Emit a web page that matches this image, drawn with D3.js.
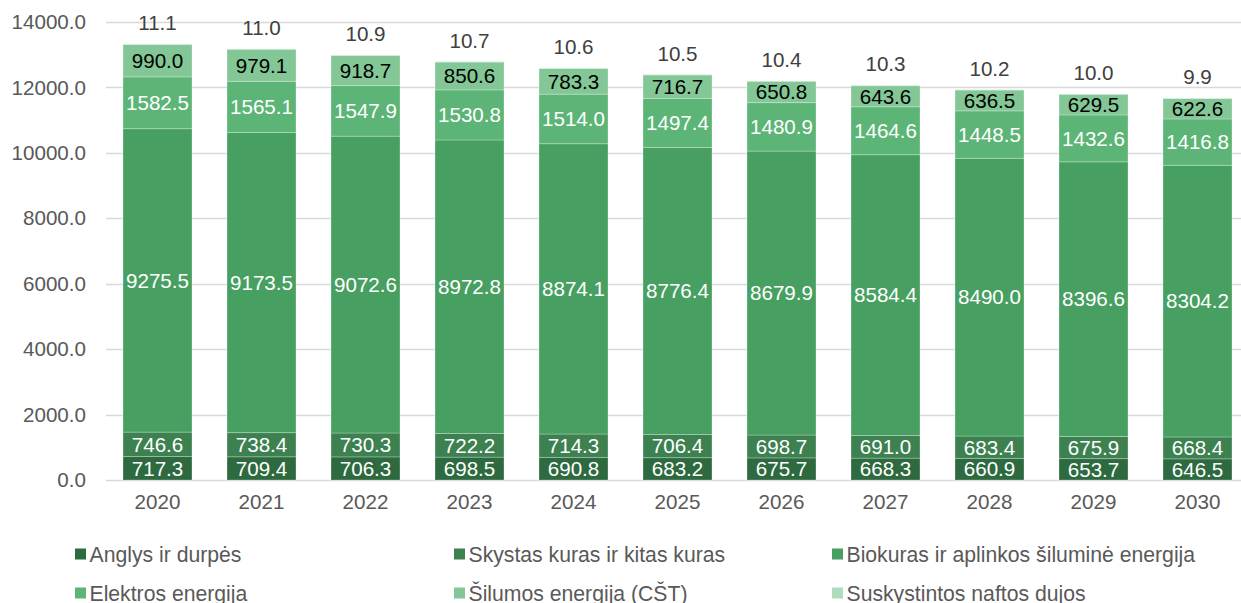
<!DOCTYPE html>
<html><head><meta charset="utf-8">
<script src="https://cdn.jsdelivr.net/npm/d3@7"></script>
<style>body{margin:0;background:#fff;} svg{display:block;font-family:"Liberation Sans",Arial,sans-serif;}</style>
</head><body>
<svg id="c" width="1241" height="603"></svg>
<script>
const years = ["2020","2021","2022","2023","2024","2025","2026","2027","2028","2029","2030"];
const seriesNames = ["Anglys ir durpės","Skystas kuras ir kitas kuras","Biokuras ir aplinkos šiluminė energija","Elektros energija","Šilumos energija (CŠT)","Suskystintos naftos dujos"];
const anglys = [717.3,709.4,706.3,698.5,690.8,683.2,675.7,668.3,660.9,653.7,646.5];
const skystas = [746.6,738.4,730.3,722.2,714.3,706.4,698.7,691.0,683.4,675.9,668.4];
const biokuras = [9275.5,9173.5,9072.6,8972.8,8874.1,8776.4,8679.9,8584.4,8490.0,8396.6,8304.2];
const elektros = [1582.5,1565.1,1547.9,1530.8,1514.0,1497.4,1480.9,1464.6,1448.5,1432.6,1416.8];
const silumos = [990.0,979.1,918.7,850.6,783.3,716.7,650.8,643.6,636.5,629.5,622.6];
const suskystintos = [11.1,11.0,10.9,10.7,10.6,10.5,10.4,10.3,10.2,10.0,9.9];
const yTicks = [0,2000,4000,6000,8000,10000,12000,14000];

const colors = ["#2e6a3f","#3d8150","#47a061","#5cb576","#82c795","#aedcbc"];
const labelColors = ["#fff","#fff","#fff","#fff","#000","#404040"];
const seriesVals = [anglys,skystas,biokuras,elektros,silumos,suskystintos];
const numFont = 20.6, legFont = 21.2;

const svg = d3.select("#c");
const x = d3.scaleBand().domain(years).range([105.5,1249.5]).paddingInner(0.337).paddingOuter(0.1685);
const y = d3.scaleLinear().domain([0,14000]).range([480,22]);

// grid
svg.append("g").selectAll("line").data(yTicks).join("line")
  .attr("x1",106).attr("x2",1241)
  .attr("y1",d=>Math.round(y(d))+0.5).attr("y2",d=>Math.round(y(d))+0.5)
  .attr("stroke","#d9d9d9").attr("stroke-width",1.5);

// y axis labels
const yAxis = d3.axisLeft(y).tickValues(yTicks).tickFormat(d=>d.toFixed(1)).tickSize(0).tickPadding(0);
const ya = svg.append("g").attr("transform","translate(86,0)").call(yAxis);
ya.select(".domain").remove();
ya.selectAll("text").attr("font-size",numFont).attr("fill","#595959").attr("font-family","Liberation Sans, Arial, sans-serif");

// x axis labels
const xAxis = d3.axisBottom(x).tickSize(0).tickPadding(0);
const xa = svg.append("g").attr("transform","translate(0,494)").call(xAxis);
xa.select(".domain").remove();
xa.selectAll("text").attr("font-size",numFont).attr("fill","#595959").attr("font-family","Liberation Sans, Arial, sans-serif");

// stack
const rows = years.map((yr,i)=>{const o={year:yr}; seriesNames.forEach((s,k)=>o[s]=seriesVals[k][i]); return o;});
const stack = d3.stack().keys(seriesNames)(rows);

const g = svg.append("g");
stack.forEach((layer,k)=>{
  g.append("g").selectAll("rect").data(layer).join("rect")
    .attr("x",d=>x(d.data.year)).attr("width",x.bandwidth())
    .attr("y",d=>y(d[1])).attr("height",d=>y(d[0])-y(d[1]))
    .attr("fill",colors[k]).attr("stroke","rgba(255,255,255,0.25)").attr("stroke-width",1);
});
// labels
stack.forEach((layer,k)=>{
  g.append("g").selectAll("text").data(layer).join("text")
    .attr("x",d=>x(d.data.year)+x.bandwidth()/2)
    .attr("y",d=> k===5 ? y(d[1])-14 : (y(d[0])+y(d[1]))/2 + 7.3)
    .attr("text-anchor","middle").attr("font-size",numFont).attr("fill",labelColors[k])
    .text(d=>(d[1]-d[0]).toFixed(1));
});

// legend
const legX = [75,454,832], legY = [554,593];
const leg = svg.append("g").selectAll("g").data(seriesNames).join("g")
  .attr("transform",(d,i)=>`translate(${legX[i%3]},${legY[Math.floor(i/3)]})`);
leg.append("rect").attr("x",0).attr("y",-5.5).attr("width",11).attr("height",11).attr("fill",(d,i)=>colors[i]);
leg.append("text").attr("x",14.5).attr("y",7.5).attr("font-size",legFont).attr("fill","#595959").text(d=>d);
</script>
</body></html>
